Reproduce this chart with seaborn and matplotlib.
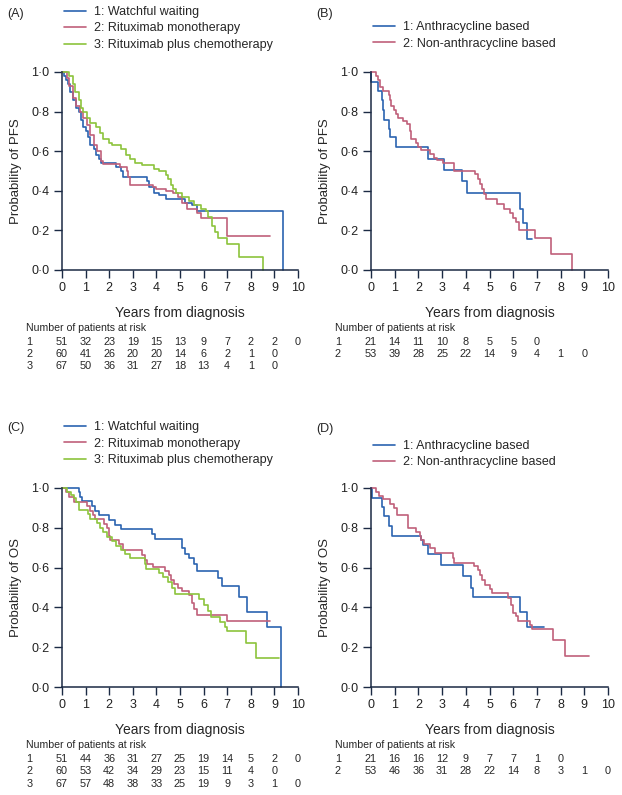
import numpy as np
import pandas as pd
import matplotlib
matplotlib.use("Agg")
import matplotlib.pyplot as plt
import matplotlib.transforms as mtransforms
from matplotlib.ticker import FuncFormatter
import seaborn as sns

# ---- data (time in years, survival probability) ----
# (A) PFS by initial management
ww_pfs_t = [0, 0.08, 0.15, 0.25, 0.35, 0.45, 0.6, 0.7, 0.8, 0.9, 1.0, 1.1, 1.2, 1.35, 1.45, 1.55, 1.65, 2.3, 2.5, 2.6,
            3.6, 3.7, 3.9, 4.1, 4.4, 5.2, 5.5, 5.7, 9.35]
ww_pfs_s = [1.0, 0.98, 0.96, 0.94, 0.90, 0.86, 0.82, 0.80, 0.76, 0.72, 0.70, 0.67, 0.63, 0.61, 0.58, 0.56, 0.54, 0.52, 0.50, 0.47,
            0.45, 0.42, 0.39, 0.38, 0.36, 0.34, 0.33, 0.30, 0.0]
mono_pfs_t = [0, 0.2, 0.3, 0.45, 0.6, 0.75, 0.9, 1.05, 1.2, 1.35, 1.5, 1.65, 1.75, 2.45, 2.75, 2.8, 2.9, 3.85, 4.0, 4.4,
              4.7, 4.9, 5.1, 5.3, 5.7, 5.9, 7.0, 8.8]
mono_pfs_s = [1.0, 0.97, 0.93, 0.87, 0.83, 0.80, 0.77, 0.73, 0.68, 0.63, 0.60, 0.55, 0.535, 0.52, 0.50, 0.47, 0.43, 0.42, 0.41, 0.40,
              0.39, 0.37, 0.34, 0.31, 0.29, 0.265, 0.17, 0.17]
chemo_pfs_t = [0, 0.3, 0.45, 0.55, 0.7, 0.8, 0.9, 1.05, 1.2, 1.45, 1.6, 1.75, 2.0, 2.1, 2.5, 2.7, 2.9, 3.1, 3.4, 3.9,
               4.1, 4.4, 4.5, 4.6, 4.7, 4.85, 5.1, 5.4, 5.6, 5.9, 6.1, 6.2, 6.35, 6.5, 6.6, 7.0, 7.5, 8.5]
chemo_pfs_s = [1.0, 0.98, 0.94, 0.90, 0.86, 0.82, 0.80, 0.77, 0.74, 0.72, 0.69, 0.66, 0.64, 0.63, 0.61, 0.58, 0.56, 0.54, 0.53, 0.51,
               0.50, 0.48, 0.46, 0.43, 0.41, 0.39, 0.37, 0.35, 0.33, 0.31, 0.30, 0.27, 0.22, 0.19, 0.16, 0.13, 0.065, 0.0]

# (B) PFS by chemotherapy type
anth_pfs_t = [0, 0.02, 0.3, 0.45, 0.5, 0.55, 0.75, 0.8, 1.05, 2.4, 3.1, 3.85, 4.05, 6.3, 6.4, 6.6, 6.8]
anth_pfs_s = [1.0, 0.95, 0.905, 0.86, 0.81, 0.76, 0.71, 0.67, 0.62, 0.56, 0.505, 0.45, 0.39, 0.31, 0.235, 0.155, 0.155]
non_pfs_t = [0, 0.2, 0.3, 0.4, 0.5, 0.75, 0.8, 0.85, 0.95, 1.05, 1.15, 1.35, 1.5, 1.65, 1.7, 1.9, 2.0, 2.1, 2.5, 2.65,
             2.8, 3.05, 3.5, 4.4, 4.5, 4.6, 4.7, 4.75, 4.85, 5.3, 5.6, 5.85, 6.0, 6.1, 6.25, 6.9, 7.6, 8.5]
non_pfs_s = [1.0, 0.98, 0.96, 0.925, 0.905, 0.885, 0.86, 0.83, 0.81, 0.79, 0.77, 0.755, 0.735, 0.70, 0.66, 0.64, 0.62, 0.605, 0.585, 0.565,
             0.555, 0.54, 0.50, 0.485, 0.46, 0.435, 0.41, 0.385, 0.36, 0.335, 0.31, 0.29, 0.265, 0.24, 0.20, 0.16, 0.08, 0.0]

# (C) OS by initial management
ww_os_t = [0, 0.7, 0.75, 0.85, 1.25, 1.4, 1.55, 2.0, 2.25, 2.5, 3.8, 3.95, 5.1, 5.2, 5.4, 5.6, 5.7, 6.6, 6.8, 7.5,
           7.85, 8.7, 9.3]
ww_os_s = [1.0, 0.98, 0.955, 0.933, 0.91, 0.885, 0.865, 0.84, 0.815, 0.795, 0.77, 0.745, 0.70, 0.67, 0.65, 0.62, 0.585, 0.55, 0.51, 0.45,
           0.375, 0.30, 0.0]
mono_os_t = [0, 0.15, 0.3, 0.5, 1.05, 1.2, 1.3, 1.4, 1.8, 1.9, 2.0, 2.05, 2.4, 2.6, 3.4, 3.5, 3.6, 3.85, 4.35, 4.55,
             4.6, 4.75, 4.9, 5.1, 5.4, 5.5, 5.6, 5.7, 7.0, 8.8]
mono_os_s = [1.0, 0.98, 0.955, 0.93, 0.91, 0.885, 0.865, 0.845, 0.82, 0.80, 0.76, 0.74, 0.72, 0.69, 0.665, 0.64, 0.62, 0.605, 0.585, 0.565,
             0.54, 0.52, 0.50, 0.48, 0.46, 0.42, 0.39, 0.36, 0.33, 0.33]
chemo_os_t = [0, 0.2, 0.4, 0.5, 0.6, 0.7, 1.1, 1.2, 1.5, 1.6, 1.75, 1.9, 2.1, 2.3, 2.5, 2.65, 2.9, 3.5, 3.55, 4.1,
              4.3, 4.5, 4.65, 4.8, 5.8, 6.0, 6.2, 6.3, 6.7, 6.9, 7.0, 7.8, 8.2, 9.2]
chemo_os_s = [1.0, 0.98, 0.965, 0.95, 0.93, 0.89, 0.87, 0.845, 0.825, 0.80, 0.78, 0.755, 0.735, 0.71, 0.69, 0.67, 0.65, 0.62, 0.595, 0.575,
              0.555, 0.53, 0.50, 0.465, 0.44, 0.41, 0.38, 0.35, 0.325, 0.30, 0.28, 0.22, 0.145, 0.145]

# (D) OS by chemotherapy type
anth_os_t = [0, 0.05, 0.45, 0.55, 0.75, 0.9, 2.1, 2.2, 2.4, 2.95, 3.9, 4.2, 4.3, 6.3, 6.6, 7.3]
anth_os_s = [1.0, 0.95, 0.905, 0.86, 0.81, 0.76, 0.74, 0.715, 0.67, 0.615, 0.56, 0.50, 0.45, 0.375, 0.30, 0.30]
non_os_t = [0, 0.2, 0.35, 0.5, 0.8, 0.95, 1.1, 1.55, 1.9, 2.05, 2.1, 2.25, 2.5, 2.7, 3.45, 3.5, 4.35, 4.5, 4.6, 4.7,
            4.8, 5.0, 5.1, 5.8, 5.9, 6.0, 6.1, 6.2, 6.7, 6.8, 7.7, 8.2, 9.2]
non_os_s = [1.0, 0.98, 0.96, 0.945, 0.92, 0.90, 0.865, 0.80, 0.78, 0.76, 0.74, 0.72, 0.70, 0.675, 0.65, 0.625, 0.61, 0.59, 0.565, 0.54,
            0.515, 0.49, 0.47, 0.445, 0.41, 0.37, 0.355, 0.33, 0.31, 0.29, 0.235, 0.155, 0.155]

# labels
mgmt_labels = ["1: Watchful waiting", "2: Rituximab monotherapy", "3: Rituximab plus chemotherapy"]
chemo_labels = ["1: Anthracycline based", "2: Non-anthracycline based"]

# numbers at risk (years 0, 1, 2, ...)
risk_a = [[51, 32, 23, 19, 15, 13, 9, 7, 2, 2, 0],
          [60, 41, 26, 20, 20, 14, 6, 2, 1, 0],
          [67, 50, 36, 31, 27, 18, 13, 4, 1, 0]]
risk_b = [[21, 14, 11, 10, 8, 5, 5, 0],
          [53, 39, 28, 25, 22, 14, 9, 4, 1, 0]]
risk_c = [[51, 44, 36, 31, 27, 25, 19, 14, 5, 2, 0],
          [60, 53, 42, 34, 29, 23, 15, 11, 4, 0],
          [67, 57, 48, 38, 33, 25, 19, 9, 3, 1, 0]]
risk_d = [[21, 16, 16, 12, 9, 7, 7, 1, 0],
          [53, 46, 36, 31, 28, 22, 14, 8, 3, 1, 0]]

blue = "#2b63b0"
red = "#c0607a"
green = "#8cc43c"
navy = "#1b2a44"

sns.set_style("ticks")
plt.rcParams['font.family'] = ['Liberation Sans', 'DejaVu Sans']
plt.rcParams['axes.edgecolor'] = navy
plt.rcParams['xtick.color'] = navy
plt.rcParams['ytick.color'] = navy
plt.rcParams['xtick.labelcolor'] = '#222222'
plt.rcParams['ytick.labelcolor'] = '#222222'


def make_df(curves, labels):
    parts = []
    for (t, s), lab in zip(curves, labels):
        parts.append(pd.DataFrame({"t": t, "s": s, "group": lab}))
    return pd.concat(parts, ignore_index=True)


def dot_fmt(v, pos):
    return f"{v:.1f}".replace(".", "\u00b7")


def draw_panel(ax, df, labels, colors, ylabel, risk, letter, leg_top):
    sns.lineplot(data=df, x="t", y="s", hue="group", hue_order=labels, palette=colors,
                 estimator=None, sort=False, drawstyle="steps-post", lw=1.2, clip_on=False, ax=ax)
    ax.set_xlim(0, 10)
    ax.set_ylim(0, 1)
    ax.set_xticks(range(0, 11))
    ax.set_yticks(np.arange(0, 1.01, 0.2))
    ax.yaxis.set_major_formatter(FuncFormatter(dot_fmt))
    ax.tick_params(length=6, width=1.0, labelsize=9)
    ax.tick_params(axis="y", pad=3)
    ax.tick_params(axis="x", pad=3)
    for sp in ["left", "bottom"]:
        ax.spines[sp].set_linewidth(1.1)
    sns.despine(ax=ax)
    ax.set_xlabel("Years from diagnosis", fontsize=10, labelpad=8)
    ax.set_ylabel(ylabel, fontsize=9.5, labelpad=7)

    handles, labs = ax.get_legend_handles_labels()
    bb = ax.get_position()
    ax.legend(handles, labs, loc="upper left", bbox_to_anchor=(bb.x0 + 0.004, leg_top),
              bbox_transform=ax.figure.transFigure, frameon=False, fontsize=9,
              borderpad=0, borderaxespad=0, handlelength=1.75, handletextpad=0.6, labelspacing=0.36)
    ax.figure.text(bb.x0 - 0.088, letter[1], letter[0], fontsize=9, va="center", ha="left")

    tr = mtransforms.blended_transform_factory(ax.transData, ax.transAxes)
    ax.text(-1.52, -0.292, "Number of patients at risk", transform=tr, fontsize=7.6, va="center", ha="left")
    row_y = [-0.363, -0.422, -0.485]
    for i, row in enumerate(risk):
        ax.text(-1.52, row_y[i], str(i + 1), transform=tr, fontsize=7.8, va="center", ha="left")
        for yr, n in enumerate(row):
            ax.text(yr, row_y[i], str(n), transform=tr, fontsize=7.8, va="center", ha="center")


fig = plt.figure(figsize=(6.22, 7.95), dpi=100)
ax_a = fig.add_axes([62 / 622, 1 - 270 / 795, 236 / 622, 198 / 795])
ax_b = fig.add_axes([371 / 622, 1 - 270 / 795, 237 / 622, 198 / 795])
ax_c = fig.add_axes([62 / 622, 1 - 687 / 795, 236 / 622, 199 / 795])
ax_d = fig.add_axes([371 / 622, 1 - 687 / 795, 237 / 622, 199 / 795])

df_a = make_df([(ww_pfs_t, ww_pfs_s), (mono_pfs_t, mono_pfs_s), (chemo_pfs_t, chemo_pfs_s)], mgmt_labels)
df_b = make_df([(anth_pfs_t, anth_pfs_s), (non_pfs_t, non_pfs_s)], chemo_labels)
df_c = make_df([(ww_os_t, ww_os_s), (mono_os_t, mono_os_s), (chemo_os_t, chemo_os_s)], mgmt_labels)
df_d = make_df([(anth_os_t, anth_os_s), (non_os_t, non_os_s)], chemo_labels)

draw_panel(ax_a, df_a, mgmt_labels, [blue, red, green], "Probability of PFS", risk_a, ("(A)", 1 - 14 / 795), 1 - 6 / 795)
draw_panel(ax_b, df_b, chemo_labels, [blue, red], "Probability of PFS", risk_b, ("(B)", 1 - 14 / 795), 1 - 21 / 795)
draw_panel(ax_c, df_c, mgmt_labels, [blue, red, green], "Probability of OS", risk_c, ("(C)", 1 - 428 / 795), 1 - 421 / 795)
draw_panel(ax_d, df_d, chemo_labels, [blue, red], "Probability of OS", risk_d, ("(D)", 1 - 429 / 795), 1 - 440 / 795)

plt.savefig("out.png", dpi=100)
plt.close(fig)
